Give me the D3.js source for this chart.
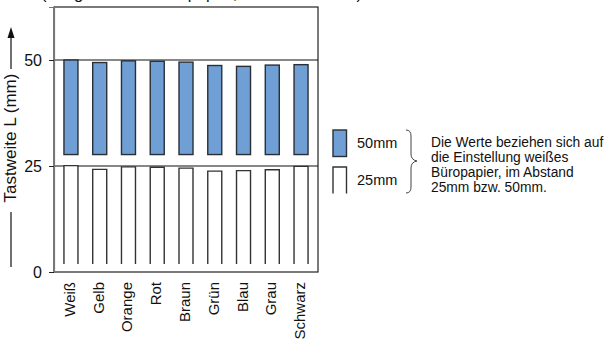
<!DOCTYPE html>
<html>
<head>
<meta charset="utf-8">
<script src="https://cdn.jsdelivr.net/npm/d3@7"></script>
<style>
  body { margin: 0; background: #fff; }
  svg { display: block; font-family: "Liberation Sans", Arial, sans-serif; }
</style>
</head>
<body>
<div class="panel"></div>
<script>
// Data
const colours = ["Weiß", "Gelb", "Orange", "Rot", "Braun", "Grün", "Blau", "Grau", "Schwarz"];
const at50mm = [50.0, 49.4, 49.8, 49.7, 49.5, 48.7, 48.5, 48.8, 48.9];
const at25mm = [25.1, 24.2, 24.8, 24.7, 24.5, 23.8, 23.9, 24.1, 24.9];
const yTicks = [0, 25, 50];
const lowerBase = 1.9;   // white bars start here
const upperBase = 27.7;  // blue bars start here
const legendItems = ["50mm", "25mm"];
const note = [
    "Die Werte beziehen sich auf",
    "die Einstellung weißes",
    "Büropapier, im Abstand",
    "25mm bzw. 50mm."
];

const params = { width: 615, height: 340, left: 54, right: 318, top: 7, bottom: 272 };

const svg = d3.select(".panel").append("svg")
    .attr("width", params.width)
    .attr("height", params.height);

const x = d3.scaleBand()
    .domain(colours)
    .range([params.left, params.right])
    .paddingInner(0.513)
    .paddingOuter(0.346);

const y = d3.scaleLinear()
    .domain([0, 62.5])
    .range([params.bottom, params.top]);

// heading, cut off by the top edge as in the original
svg.append("text")
    .attr("x", 41)
    .attr("y", -1)
    .attr("font-size", 16.5)
    .attr("fill", "#111")
    .text("(auf gefärbtem Büropapier, 50 mm Abstand)");

// frame
svg.append("rect")
    .attr("x", params.left)
    .attr("y", params.top)
    .attr("width", params.right - params.left)
    .attr("height", params.bottom - params.top)
    .attr("fill", "none")
    .attr("stroke", "#222")
    .attr("stroke-width", 1.2);

// grid lines at 25 / 50
svg.selectAll(".grid")
    .data(yTicks.filter(d => d > 0))
    .enter().append("line")
    .attr("x1", params.left)
    .attr("x2", params.right)
    .attr("y1", d => y(d))
    .attr("y2", d => y(d))
    .attr("stroke", "#111")
    .attr("stroke-width", 1.2);

// y axis
const yAxis = svg.append("g")
    .attr("transform", `translate(${params.left},0)`)
    .call(d3.axisLeft(y).tickValues(yTicks).tickSize(5).tickPadding(7));
yAxis.select(".domain").attr("stroke", "#777").attr("stroke-width", 1.2);
yAxis.selectAll(".tick line").attr("stroke", "#222");
yAxis.selectAll(".tick text")
    .attr("font-size", 16)
    .attr("font-family", "Liberation Sans, Arial, sans-serif")
    .attr("fill", "#111");

// y axis title with lines and arrow
svg.append("text")
    .attr("transform", "translate(16,138) rotate(-90)")
    .attr("text-anchor", "middle")
    .attr("font-size", 17)
    .attr("fill", "#111")
    .text("Tastweite L (mm)");

svg.append("line")
    .attr("x1", 11).attr("x2", 11)
    .attr("y1", 212).attr("y2", 267)
    .attr("stroke", "#111").attr("stroke-width", 1.2);
svg.append("line")
    .attr("x1", 11).attr("x2", 11)
    .attr("y1", 69).attr("y2", 36)
    .attr("stroke", "#111").attr("stroke-width", 1.2);
svg.append("path")
    .attr("d", "M11,27 L7.5,38 L14.5,38 Z")
    .attr("fill", "#111");

// 25mm bars: open at the bottom
const openBar = (x0, w, yTop, yBot) =>
    `M${x0},${yBot} L${x0},${yTop} L${x0 + w},${yTop} L${x0 + w},${yBot}`;

svg.selectAll(".bar25")
    .data(colours)
    .enter().append("path")
    .attr("class", "bar25")
    .attr("d", (c, i) => openBar(x(c), x.bandwidth(), y(at25mm[i]), y(lowerBase)))
    .attr("fill", "#fff")
    .attr("stroke", "#333")
    .attr("stroke-width", 1.4);

// 50mm bars
svg.selectAll(".bar50")
    .data(colours)
    .enter().append("rect")
    .attr("class", "bar50")
    .attr("x", c => x(c))
    .attr("width", x.bandwidth())
    .attr("y", (c, i) => y(at50mm[i]))
    .attr("height", (c, i) => y(upperBase) - y(at50mm[i]))
    .attr("fill", "#6f9fd4")
    .attr("stroke", "#2a2f36")
    .attr("stroke-width", 1.4);

// x labels
svg.selectAll(".xlabel")
    .data(colours)
    .enter().append("text")
    .attr("transform", c => `translate(${x(c) + x.bandwidth() / 2 + 4},282) rotate(-90)`)
    .attr("text-anchor", "end")
    .attr("font-size", 15)
    .attr("fill", "#111")
    .text(c => c);

// legend
const legend = svg.append("g");
legend.append("rect")
    .attr("x", 333).attr("y", 130)
    .attr("width", 13.5).attr("height", 26.5)
    .attr("fill", "#6f9fd4")
    .attr("stroke", "#2a2f36")
    .attr("stroke-width", 1.4);
legend.append("path")
    .attr("d", openBar(333, 13.5, 167, 193.5))
    .attr("fill", "none")
    .attr("stroke", "#333")
    .attr("stroke-width", 1.4);
legend.selectAll(".ltext")
    .data(legendItems)
    .enter().append("text")
    .attr("x", 357)
    .attr("y", (d, i) => 148 + i * 37)
    .attr("font-size", 14.5)
    .attr("fill", "#111")
    .text(d => d);

// brace
svg.append("path")
    .attr("d", "M406,130 Q411,130 411,136 L411,154 Q411,160 417,161 Q411,162 411,168 L411,187 Q411,193 406,193")
    .attr("fill", "none")
    .attr("stroke", "#444")
    .attr("stroke-width", 1);

// note
svg.append("g").selectAll("text")
    .data(note)
    .enter().append("text")
    .attr("x", 431)
    .attr("y", (d, i) => 147 + i * 15)
    .attr("font-size", 13.8)
    .attr("fill", "#111")
    .text(d => d);
</script>
</body>
</html>
